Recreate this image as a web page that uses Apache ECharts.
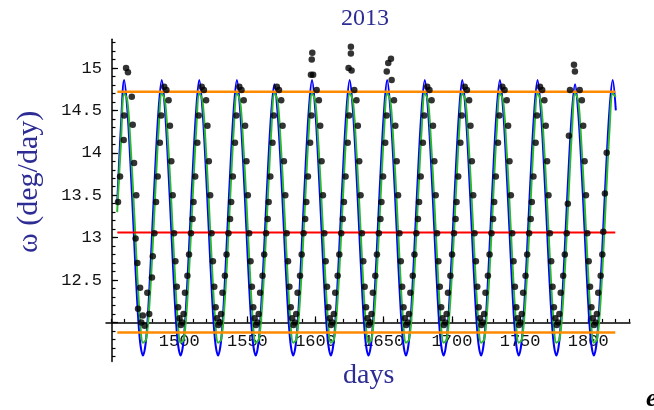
<!DOCTYPE html>
<html>
<head>
<meta charset="utf-8">
<script src="https://cdn.jsdelivr.net/npm/echarts@6/dist/echarts.min.js"></script>
<style>
  html, body { margin: 0; padding: 0; background: #fff; }
  #chart { width: 654px; height: 410px; }
</style>
</head>
<body>
<div id="chart"></div>
<script>
// Angular speed of the Moon (deg/day) over the 2013 window.
const titleText = '2013';
const xName = 'days';
const yName = 'ω (deg/day)';

const xTickValues = [1500, 1550, 1600, 1650, 1700, 1750, 1800];
const xMinorTicks = [1450, 1460, 1470, 1480, 1490, 1500, 1510, 1520, 1530, 1540, 1550, 1560, 1570, 1580, 1590,
  1600, 1610, 1620, 1630, 1640, 1650, 1660, 1670, 1680, 1690, 1700, 1710, 1720, 1730, 1740, 1750, 1760, 1770,
  1780, 1790, 1800, 1810, 1820, 1830];
const yTickValues = [12, 12.5, 13, 13.5, 14, 14.5, 15];
const yLabelValues = [12.5, 13, 13.5, 14, 14.5, 15];
const yMinorTicks = [11.6, 11.7, 11.8, 11.9, 12.0, 12.1, 12.2, 12.3, 12.4, 12.5, 12.6, 12.7, 12.8, 12.9, 13.0,
  13.1, 13.2, 13.3, 13.4, 13.5, 13.6, 13.7, 13.8, 13.9, 14.0, 14.1, 14.2, 14.3, 14.4, 14.5, 14.6, 14.7, 14.8,
  14.9, 15.0, 15.1, 15.2, 15.3];

// Reference levels: maximum, mean and minimum angular speed.
const levelSpan = [1454.6, 1819.8];
const levelMax = 14.72;
const levelMean = 13.06;
const levelMin = 11.88;

// Model curves sampled along the days axis.
const modelDays = [
  1454.5, 1457.2,
  1459.6, 1461.9, 1464.2, 1466.5, 1468.8, 1471.1, 1473.4, 1475.7, 1478.0, 1480.3, 1482.6, 1484.9,
  1487.2, 1489.5, 1491.8, 1494.1, 1496.4, 1498.7, 1501.0, 1503.3, 1505.6, 1507.9, 1510.2, 1512.5,
  1514.7, 1517.0, 1519.3, 1521.6, 1523.9, 1526.2, 1528.5, 1530.8, 1533.1, 1535.4, 1537.7, 1540.0,
  1542.3, 1544.6, 1546.9, 1549.2, 1551.5, 1553.8, 1556.1, 1558.4, 1560.7, 1563.0, 1565.3, 1567.6,
  1569.8, 1572.1, 1574.4, 1576.7, 1579.0, 1581.3, 1583.6, 1585.9, 1588.2, 1590.5, 1592.8, 1595.1,
  1597.4, 1599.7, 1602.0, 1604.3, 1606.6, 1608.9, 1611.2, 1613.5, 1615.8, 1618.1, 1620.4, 1622.7,
  1625.0, 1627.3, 1629.6, 1631.9, 1634.2, 1636.5, 1638.8, 1641.1, 1643.4, 1645.7, 1648.0, 1650.3,
  1652.5, 1654.8, 1657.1, 1659.4, 1661.7, 1664.0, 1666.3, 1668.6, 1670.9, 1673.2, 1675.5, 1677.8,
  1680.1, 1682.4, 1684.7, 1687.0, 1689.3, 1691.6, 1693.9, 1696.2, 1698.5, 1700.8, 1703.1, 1705.4,
  1707.6, 1709.9, 1712.2, 1714.5, 1716.8, 1719.1, 1721.4, 1723.7, 1726.0, 1728.3, 1730.6, 1732.9,
  1735.2, 1737.5, 1739.8, 1742.1, 1744.4, 1746.7, 1749.0, 1751.3, 1753.6, 1755.9, 1758.2, 1760.5,
  1762.8, 1765.1, 1767.4, 1769.7, 1772.0, 1774.3, 1776.6, 1778.9, 1781.2, 1783.5, 1785.8, 1788.1,
  1790.3, 1792.6, 1794.9, 1797.2, 1799.5, 1801.8, 1804.1, 1806.4, 1808.7, 1811.0, 1813.3, 1815.6,
  1817.9, 1820.2
];

const blueOmega = [
  13.40, 14.30,
  14.86, 14.52, 13.88, 13.12, 12.36, 11.80, 11.61, 11.80, 12.36, 13.12, 13.88, 14.52,
  14.86, 14.52, 13.88, 13.12, 12.36, 11.80, 11.61, 11.80, 12.36, 13.12, 13.88, 14.52,
  14.86, 14.52, 13.88, 13.12, 12.36, 11.80, 11.61, 11.80, 12.36, 13.12, 13.88, 14.52,
  14.86, 14.52, 13.88, 13.12, 12.36, 11.80, 11.61, 11.80, 12.36, 13.12, 13.88, 14.50,
  14.81, 14.48, 13.86, 13.12, 12.36, 11.80, 11.61, 11.80, 12.36, 13.12, 13.88, 14.52,
  14.86, 14.52, 13.88, 13.12, 12.36, 11.80, 11.61, 11.80, 12.36, 13.12, 13.88, 14.52,
  14.86, 14.52, 13.88, 13.12, 12.36, 11.80, 11.61, 11.80, 12.36, 13.12, 13.88, 14.52,
  14.86, 14.52, 13.88, 13.12, 12.36, 11.80, 11.61, 11.80, 12.36, 13.12, 13.88, 14.52,
  14.86, 14.52, 13.88, 13.12, 12.36, 11.80, 11.61, 11.80, 12.36, 13.12, 13.88, 14.52,
  14.86, 14.52, 13.88, 13.12, 12.36, 11.80, 11.61, 11.80, 12.36, 13.12, 13.88, 14.52,
  14.86, 14.52, 13.88, 13.12, 12.36, 11.80, 11.61, 11.80, 12.36, 13.12, 13.88, 14.52,
  14.86, 14.52, 13.88, 13.12, 12.36, 11.80, 11.61, 11.80, 12.36, 13.12, 13.88, 14.50,
  14.81, 14.48, 13.86, 13.12, 12.36, 11.80, 11.61, 11.80, 12.36, 13.12, 13.88, 14.52,
  14.86, 14.50
];

const greenOmega = [
  13.30, 14.10,
  14.70, 14.62, 14.12, 13.45, 12.70, 12.06, 11.76, 11.80, 12.18, 12.82, 13.58, 14.28,
  14.70, 14.62, 14.12, 13.45, 12.70, 12.06, 11.76, 11.80, 12.18, 12.82, 13.58, 14.28,
  14.70, 14.62, 14.12, 13.45, 12.70, 12.06, 11.76, 11.80, 12.18, 12.82, 13.58, 14.28,
  14.70, 14.62, 14.12, 13.45, 12.70, 12.06, 11.76, 11.80, 12.18, 12.82, 13.58, 14.28,
  14.70, 14.62, 14.12, 13.45, 12.70, 12.06, 11.76, 11.80, 12.18, 12.82, 13.58, 14.28,
  14.70, 14.62, 14.12, 13.45, 12.70, 12.06, 11.76, 11.80, 12.18, 12.82, 13.58, 14.28,
  14.70, 14.62, 14.12, 13.45, 12.70, 12.06, 11.76, 11.80, 12.18, 12.82, 13.58, 14.28,
  14.70, 14.62, 14.12, 13.45, 12.70, 12.06, 11.76, 11.80, 12.18, 12.82, 13.58, 14.28,
  14.70, 14.62, 14.12, 13.45, 12.70, 12.06, 11.76, 11.80, 12.18, 12.82, 13.58, 14.28,
  14.70, 14.62, 14.12, 13.45, 12.70, 12.06, 11.76, 11.80, 12.18, 12.82, 13.58, 14.28,
  14.70, 14.62, 14.12, 13.45, 12.70, 12.06, 11.76, 11.80, 12.18, 12.82, 13.58, 14.28,
  14.70, 14.62, 14.12, 13.45, 12.70, 12.06, 11.76, 11.80, 12.18, 12.82, 13.58, 14.28,
  14.70, 14.62, 14.12, 13.45, 12.70, 12.06, 11.76, 11.80, 12.18, 12.82, 13.58, 14.28,
  14.70, 14.66
];

// Measured angular speed: [day, deg/day].
const observed = [
  [1455.1, 13.42], [1456.6, 13.72], [1459.3, 14.15], [1459.6, 14.44], [1461.0, 15.00], [1462.4, 14.95],
  [1465.2, 14.66], [1465.9, 14.33], [1466.9, 13.88], [1468.5, 13.50], [1468.0, 12.99], [1469.3, 12.70],
  [1471.3, 12.41], [1469.8, 12.16], [1473.3, 12.08], [1474.6, 11.96], [1472.2, 12.00], [1476.6, 12.35],
  [1478.0, 12.10], [1480.0, 12.53], [1480.6, 12.78], [1481.8, 13.05],
  // 1487
  [1483.0, 13.42], [1484.2, 13.72], [1485.8, 14.12], [1486.8, 14.44], [1489.0, 14.78], [1490.6, 14.74],
  [1492.2, 14.62], [1493.2, 14.32], [1494.2, 13.90], [1495.2, 13.50], [1496.2, 13.05], [1497.2, 12.72],
  [1498.2, 12.42], [1499.2, 12.18], [1500.2, 12.05], [1501.2, 11.97], [1502.2, 12.00], [1503.2, 12.10],
  [1504.2, 12.35], [1506.0, 12.55], [1507.2, 12.80], [1508.6, 13.05], [1509.8, 13.22],
  // 1515
  [1510.5, 13.42], [1511.7, 13.72], [1513.3, 14.12], [1514.3, 14.44], [1516.5, 14.78], [1518.1, 14.74],
  [1519.7, 14.62], [1520.7, 14.32], [1521.7, 13.90], [1522.7, 13.50], [1523.7, 13.05], [1524.7, 12.72],
  [1525.7, 12.42], [1526.7, 12.18], [1527.7, 12.05], [1528.7, 11.97], [1529.7, 12.00], [1530.7, 12.10],
  [1531.7, 12.35], [1533.5, 12.55], [1534.7, 12.80], [1536.1, 13.05], [1537.3, 13.22],
  // 1542
  [1538.1, 13.42], [1539.3, 13.72], [1540.9, 14.12], [1541.9, 14.44], [1544.1, 14.78], [1545.7, 14.74],
  [1547.3, 14.62], [1548.3, 14.32], [1549.3, 13.90], [1550.3, 13.50], [1551.3, 13.05], [1552.3, 12.72],
  [1553.3, 12.42], [1554.3, 12.18], [1555.3, 12.05], [1556.3, 11.97], [1557.3, 12.00], [1558.3, 12.10],
  [1559.3, 12.35], [1561.1, 12.55], [1562.3, 12.80], [1563.7, 13.05], [1564.9, 13.22],
  // 1570
  [1565.6, 13.42], [1566.8, 13.72], [1568.4, 14.12], [1569.4, 14.44], [1571.6, 14.78], [1573.2, 14.74],
  [1574.8, 14.62], [1575.8, 14.32], [1576.8, 13.90], [1577.8, 13.50], [1578.8, 13.05], [1579.8, 12.72],
  [1580.8, 12.42], [1581.8, 12.18], [1582.8, 12.05], [1583.8, 11.97], [1584.8, 12.00], [1585.8, 12.10],
  [1586.8, 12.35], [1588.6, 12.55], [1589.8, 12.80], [1591.2, 13.05], [1592.4, 13.22],
  // 1597
  [1593.2, 13.42], [1594.4, 13.72], [1596.0, 14.12], [1597.0, 14.44], [1597.6, 15.18], [1597.2, 15.10],
  [1596.6, 14.92], [1598.2, 14.92], [1600.8, 14.74],
  [1602.4, 14.62], [1603.4, 14.32], [1604.4, 13.90], [1605.4, 13.50], [1606.4, 13.05], [1607.4, 12.72],
  [1608.4, 12.42], [1609.4, 12.18], [1610.4, 12.05], [1611.4, 11.97], [1612.4, 12.00], [1613.4, 12.10],
  [1614.4, 12.35], [1616.2, 12.55], [1617.4, 12.80], [1618.8, 13.05], [1620.0, 13.22],
  // 1625
  [1620.8, 13.42], [1622.0, 13.72], [1623.6, 14.12], [1624.6, 14.44], [1625.9, 15.25], [1625.9, 15.17],
  [1624.2, 15.00], [1626.4, 14.97], [1628.4, 14.74],
  [1630.0, 14.62], [1631.0, 14.32], [1632.0, 13.90], [1633.0, 13.50], [1634.0, 13.05], [1635.0, 12.72],
  [1636.0, 12.42], [1637.0, 12.18], [1638.0, 12.05], [1639.0, 11.97], [1640.0, 12.00], [1641.0, 12.10],
  [1642.0, 12.35], [1643.8, 12.55], [1645.0, 12.80], [1646.4, 13.05], [1647.6, 13.22],
  // 1652
  [1648.3, 13.42], [1649.5, 13.72], [1651.1, 14.12], [1652.1, 14.44], [1655.3, 15.11], [1653.3, 15.06],
  [1652.2, 14.96], [1655.8, 14.86],
  [1657.5, 14.62], [1658.5, 14.32], [1659.5, 13.90], [1660.5, 13.50], [1661.5, 13.05], [1662.5, 12.72],
  [1663.5, 12.42], [1664.5, 12.18], [1665.5, 12.05], [1666.5, 11.97], [1667.5, 12.00], [1668.5, 12.10],
  [1669.5, 12.35], [1671.3, 12.55], [1672.5, 12.80], [1673.9, 13.05], [1675.1, 13.22],
  // 1680
  [1675.9, 13.42], [1677.1, 13.72], [1678.7, 14.12], [1679.7, 14.44], [1681.9, 14.78], [1683.5, 14.74],
  [1685.1, 14.62], [1686.1, 14.32], [1687.1, 13.90], [1688.1, 13.50], [1689.1, 13.05], [1690.1, 12.72],
  [1691.1, 12.42], [1692.1, 12.18], [1693.1, 12.05], [1694.1, 11.97], [1695.1, 12.00], [1696.1, 12.10],
  [1697.1, 12.35], [1698.9, 12.55], [1700.1, 12.80], [1701.5, 13.05], [1702.7, 13.22],
  // 1708
  [1703.4, 13.42], [1704.6, 13.72], [1706.2, 14.12], [1707.2, 14.44], [1709.4, 14.78], [1711.0, 14.74],
  [1712.6, 14.62], [1713.6, 14.32], [1714.6, 13.90], [1715.6, 13.50], [1716.6, 13.05], [1717.6, 12.72],
  [1718.6, 12.42], [1719.6, 12.18], [1720.6, 12.05], [1721.6, 11.97], [1722.6, 12.00], [1723.6, 12.10],
  [1724.6, 12.35], [1726.4, 12.55], [1727.6, 12.80], [1729.0, 13.05], [1730.2, 13.22],
  // 1735
  [1731.0, 13.42], [1732.2, 13.72], [1733.8, 14.12], [1734.8, 14.44], [1737.0, 14.78], [1738.6, 14.74],
  [1740.2, 14.62], [1741.2, 14.32], [1742.2, 13.90], [1743.2, 13.50], [1744.2, 13.05], [1745.2, 12.72],
  [1746.2, 12.42], [1747.2, 12.18], [1748.2, 12.05], [1749.2, 11.97], [1750.2, 12.00], [1751.2, 12.10],
  [1752.2, 12.35], [1754.0, 12.55], [1755.2, 12.80], [1756.6, 13.05], [1757.8, 13.22],
  // 1763
  [1758.6, 13.42], [1759.8, 13.72], [1761.4, 14.12], [1762.4, 14.44], [1764.6, 14.78], [1766.2, 14.74],
  [1767.8, 14.62], [1768.8, 14.32], [1769.8, 13.90], [1770.8, 13.50], [1771.8, 13.05], [1772.8, 12.72],
  [1773.8, 12.42], [1774.8, 12.18], [1775.8, 12.05], [1776.8, 11.97], [1777.8, 12.00], [1778.8, 12.10],
  [1779.8, 12.35], [1781.6, 12.55], [1782.8, 12.80], [1784.2, 13.05], [1785.0, 13.40],
  // 1790
  [1785.8, 14.20], [1786.6, 14.74], [1789.5, 15.04], [1790.2, 14.96], [1793.7, 14.74],
  [1795.3, 14.62], [1796.3, 14.32], [1797.3, 13.90], [1798.3, 13.50], [1799.3, 13.05], [1800.3, 12.72],
  [1801.3, 12.42], [1802.3, 12.18], [1803.3, 12.05], [1804.3, 11.97], [1805.3, 12.00], [1806.3, 12.10],
  [1807.3, 12.35], [1809.1, 12.55], [1810.3, 12.80], [1811.0, 13.07], [1812.2, 13.52], [1813.5, 14.00]
];

const zip = (xs, ys) => xs.map((x, i) => [x, ys[i]]);
const levelLine = (v) => [[levelSpan[0], v], [levelSpan[1], v]];

const chart = echarts.init(document.getElementById('chart'), null, { renderer: 'canvas' });

const monoLabel = { fontFamily: 'Liberation Mono', fontSize: 17, color: '#111' };
const navy = '#2c2c94';

const X_MIN = 1446.3, X_MAX = 1830.6, Y_MIN = 11.54, Y_MAX = 15.34;

chart.setOption({
  animation: false,
  backgroundColor: '#fff',
  grid: { left: 106, right: 24, top: 39.2, bottom: 48.6, outerBoundsMode: 'none', containLabel: false },
  xAxis: [
    {
      type: 'value', min: X_MIN, max: X_MAX, position: 'bottom', offset: -39,
      axisLine: { onZero: false, lineStyle: { color: '#000', width: 1.5 } },
      axisTick: { customValues: xTickValues, inside: true, length: 6, lineStyle: { color: '#000', width: 1.2 } },
      axisLabel: Object.assign({ customValues: xTickValues, margin: 11, formatter: (v) => String(v) }, monoLabel),
      splitLine: { show: false }
    },
    {
      type: 'value', min: X_MIN, max: X_MAX, position: 'bottom', offset: -39,
      axisLine: { show: false, onZero: false },
      axisTick: { customValues: xMinorTicks, inside: true, length: 3.5, lineStyle: { color: '#000', width: 1.2 } },
      axisLabel: { show: false },
      splitLine: { show: false }
    }
  ],
  yAxis: [
    {
      type: 'value', min: Y_MIN, max: Y_MAX, position: 'left', offset: -6,
      axisLine: { onZero: false, lineStyle: { color: '#000', width: 1.5 } },
      axisTick: { customValues: yTickValues, inside: true, length: 6, lineStyle: { color: '#000', width: 1.2 } },
      axisLabel: Object.assign({ customValues: yLabelValues, margin: 10, formatter: (v) => String(v) }, monoLabel),
      splitLine: { show: false }
    },
    {
      type: 'value', min: Y_MIN, max: Y_MAX, position: 'left', offset: -6,
      axisLine: { show: false, onZero: false },
      axisTick: { customValues: yMinorTicks, inside: true, length: 3.5, lineStyle: { color: '#000', width: 1.2 } },
      axisLabel: { show: false },
      splitLine: { show: false }
    }
  ],
  series: [
    {
      name: 'model A', type: 'line', data: zip(modelDays, blueOmega), smooth: 0.35, showSymbol: false,
      lineStyle: { color: '#0000ff', width: 2 }, z: 2, clip: false
    },
    {
      name: 'model B', type: 'line', data: zip(modelDays, greenOmega), smooth: 0.35, showSymbol: false,
      lineStyle: { color: '#2eb82e', width: 2 }, z: 3, clip: false
    },
    {
      name: 'max', type: 'line', data: levelLine(levelMax), showSymbol: false,
      lineStyle: { color: '#ff8a00', width: 2.5 }, z: 4
    },
    {
      name: 'mean', type: 'line', data: levelLine(levelMean), showSymbol: false,
      lineStyle: { color: '#ff0000', width: 1.8 }, z: 4
    },
    {
      name: 'min', type: 'line', data: levelLine(levelMin), showSymbol: false,
      lineStyle: { color: '#ff8a00', width: 2.5 }, z: 4
    },
    {
      name: 'observed', type: 'scatter', data: observed, symbol: 'circle', symbolSize: 6.5,
      itemStyle: { color: '#000' }, z: 5
    }
  ],
  graphic: [
    {
      type: 'text', left: 341, top: 7,
      style: { text: titleText, font: '24px "Liberation Serif"', fill: navy }
    },
    {
      type: 'text', left: 343, top: 362,
      style: { text: xName, font: '28px "Liberation Serif"', fill: navy }
    },
    {
      type: 'text', x: 14, y: 253, rotation: Math.PI / 2,
      style: { text: yName, font: '30px "Liberation Serif"', fill: navy }
    },
    {
      type: 'text', left: 646, top: 386,
      style: { text: 'e', font: 'bold italic 26px "Liberation Serif"', fill: '#000' }
    }
  ]
});
</script>
</body>
</html>
